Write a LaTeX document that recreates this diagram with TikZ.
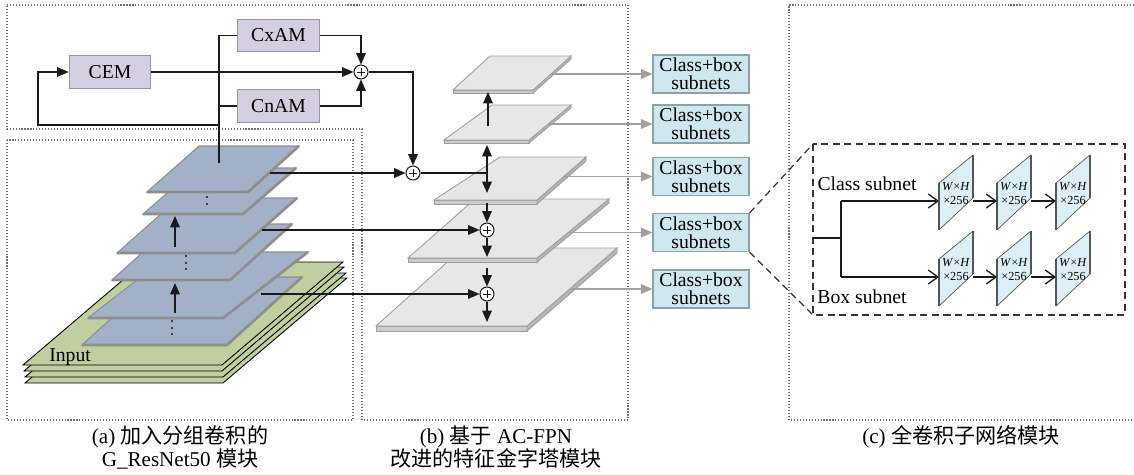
\documentclass[tikz,border=0pt]{standalone}
\usepackage{fontspec}
\setmainfont{Liberation Serif}
\newfontfamily\cjk{Noto Sans CJK SC}
\usetikzlibrary{arrows.meta,calc}
\definecolor{lav}{HTML}{D4CEE1}
\definecolor{lavb}{HTML}{9A94A8}
\definecolor{cbox}{HTML}{CFE7EF}
\definecolor{cboxb}{HTML}{8AA3AC}
\definecolor{bluep}{HTML}{A3B1C8}
\definecolor{bluepb}{HTML}{8E8E8E}
\definecolor{greenp}{HTML}{BFCF9F}
\definecolor{grayt}{HTML}{E7E7E7}
\definecolor{grayf}{HTML}{CBCBCB}
\definecolor{grays}{HTML}{B7B7B7}
\definecolor{grayb}{HTML}{9E9E9E}
\definecolor{subp}{HTML}{DDEFF6}
\definecolor{platec}{HTML}{555555}
\definecolor{dotc}{HTML}{707070}
\definecolor{dashc}{HTML}{333333}
\definecolor{linec}{HTML}{1A1A1A}
\definecolor{garrc}{HTML}{A0A0A0}
% gray FPN plate: TLx TRx topy BLx BRx boty thickness
\newcommand\gplate[7]{%
  \filldraw[fill=grayf,draw=grayb,line width=0.5pt] (#4,#6) -- (#5,#6) -- (#5,#6+#7) -- (#4,#6+#7) -- cycle;
  \filldraw[fill=grays,draw=grayb,line width=0.5pt] (#5,#6) -- (#2,#3) -- (#2,#3+#7) -- (#5,#6+#7) -- cycle;
  \filldraw[fill=grayt,draw=grayb,line width=0.5pt] (#1,#3) -- (#2,#3) -- (#5,#6) -- (#4,#6) -- cycle;}
% blue backbone plate
\newcommand\bplate[6]{%
  \filldraw[fill=bluep,draw=bluepb,line width=0.6pt] (#1,#3) -- (#2,#3) -- (#5,#6) -- (#4,#6) -- cycle;
  \draw[bluepb,line width=1.5pt] (#4,#6) -- (#5,#6) -- (#2,#3);}
% green input plate
\newcommand\grplate[6]{%
  \filldraw[fill=greenp,draw=black,line width=0.5pt] (#1,#3) -- (#2,#3) -- (#5,#6) -- (#4,#6) -- cycle;}
% subnet feature plate: name, left x, top-left y
\newcommand\subplate[3]{%
  \fill[subp] (#2,#3) -- (#2+34,#3-28) -- (#2+34,#3+15) -- (#2,#3+47) -- cycle;
  \draw[platec,line width=0.4pt] (#2,#3) -- (#2+34,#3-28) (#2+34,#3+15) -- (#2,#3+47);
  \draw[platec,line width=1.5pt] (#2,#3) -- (#2,#3+47);
  \draw[platec,line width=0.9pt] (#2+34,#3-28) -- (#2+34,#3+15);
  \node[smalltxt] (#1a) at (#2+17,#3+4) {\textit{W}×\textit{H}};
  \node[smalltxt] (#1b) at (#2+17,#3+17) {×256};
  \coordinate (#1l) at (#2,#3+18);
  \coordinate (#1r) at (#2+34,#3+18);}
\begin{document}
\begin{tikzpicture}[x=0.02cm,y=-0.02cm,font=\fontsize{11.2}{10}\selectfont,
  lin/.style={line width=0.75pt,draw=linec},
  arr/.style={lin,-{Triangle[length=6.5pt,width=5.5pt]}},
  garr/.style={line width=0.75pt,draw=garrc,-{Triangle[length=6.5pt,width=5.5pt]}},
  oarr/.style={lin,-{Straight Barb[length=5.5pt,width=8pt]}},
  modbox/.style={draw=lavb,fill=lav,line width=0.7pt,minimum height=0.65cm,minimum width=1.63cm,inner sep=0pt},
  cbbox/.style={draw=cboxb,fill=cbox,line width=0.7pt,minimum height=0.76cm,minimum width=1.92cm,inner sep=0pt,align=center},
  sumnode/.style={circle,draw=linec,fill=white,minimum size=0.28cm,inner sep=0pt,line width=0.6pt,
    path picture={\draw[line width=0.5pt,linec] ([xshift=1.6pt]path picture bounding box.west) -- ([xshift=-1.6pt]path picture bounding box.east)
      ([yshift=-1.6pt]path picture bounding box.north) -- ([yshift=1.6pt]path picture bounding box.south);}},
  dotbox/.style={draw=dotc,line width=0.6pt,dash pattern=on 0.6pt off 1.1pt},
  dashln/.style={draw=dashc,line width=0.7pt,dash pattern=on 4pt off 2.6pt},
  lbl/.style={inner sep=0pt},
  smalltxt/.style={font=\fontsize{7}{8}\selectfont,inner sep=0pt},
  captext/.style={font=\fontsize{12}{14}\selectfont,inner sep=0pt,anchor=base}]
\useasboundingbox (0,0) rectangle (1134,474);

% dotted panel outlines
\draw[dotbox] (7,140) rectangle (353,420);
\draw[dotbox] (7,5) -- (628,5) -- (628,420) -- (362,420) -- (362,129) -- (7,129) -- cycle;
\draw[dotbox] (1134,5) -- (789,5) -- (789,420) -- (1134,420);

% input layers
\grplate{149}{347}{278}{25}{223}{383}
\grplate{148}{346}{273}{25}{223}{377}
\grplate{146}{344}{267}{24}{222}{371}
\grplate{144}{343}{262}{23}{222}{365}
\node[lbl,anchor=base west] (inp) at (49,361) {Input};

% backbone plates
\bplate{157}{302}{277}{82}{227}{345}
\bplate{173}{308}{252}{88}{223}{318}
\bplate{174}{292}{224}{112}{230}{280}
\bplate{179}{297}{198}{117}{235}{253}
\bplate{196}{296}{168}{143}{243}{214}
\bplate{199}{299}{146}{147}{248}{192}
\foreach \p in {(207,197),(207,204),(186,256),(186,263),(186,269),(172,321),(172,328),(172,334)}
  \fill[linec] \p circle[radius=1.1];
\coordinate (u1s) at (175,247); \coordinate (u1e) at (175,216);
\coordinate (u2s) at (175,313); \coordinate (u2e) at (175,283);
\draw[arr] (u1s) -- (u1e);
\draw[arr] (u2s) -- (u2e);

% FPN plates
\gplate{463}{617}{248}{376}{527}{326}{5}
\gplate{475}{609}{199}{408}{537}{258}{4}
\gplate{500}{586}{157}{434}{537}{200}{4}
\gplate{492}{571}{105}{444}{529}{140}{3}
\gplate{490}{571}{56}{453}{533}{90}{3}

% attention modules
\node[modbox] (cem) at (110,72) {CEM};
\node[modbox] (cxam) at (278.5,35.5) {CxAM};
\node[modbox] (cnam) at (278.5,106) {CnAM};
\node[sumnode] (p1) at (361,72) {};
\node[sumnode] (p2) at (413,173) {};
\node[sumnode] (p3) at (487,230) {};
\node[sumnode] (p4) at (487,294) {};

\coordinate (bbin) at (219,163);
\coordinate (fb) at (219,125);
\coordinate (fbl) at (38,125);
\draw[lin] (cxam.west) -| (bbin);
\draw[lin] (cnam.west) -- (cnam.west -| bbin);
\draw[arr] (fb) -- (fbl) |- (cem.west);
\draw[arr] (cem.east) -- (p1.west);
\draw[arr] (cxam.east) -| (p1.north);
\draw[arr] (cnam.east) -| (p1.south);
\draw[arr] (p1.east) -| (p2.north);

\coordinate (s1) at (270,173);
\coordinate (s2) at (262,230);
\coordinate (s3) at (261,294);
\draw[arr] (s1) -- (p2.west);
\draw[arr] (s2) -- (p3.west);
\draw[arr] (s3) -- (p4.west);

\coordinate (j) at (487,173);
\coordinate (jup) at (487,145);
\coordinate (jdn) at (487,193);
\draw[lin] (p2.east) -- (j);
\draw[arr] (j) -- (jup);
\draw[arr] (j) -- (jdn);
\coordinate (t1s) at (488,126); \coordinate (t1e) at (488,92);
\draw[arr] (t1s) -- (t1e);
\coordinate (p3in) at (487,203); \coordinate (p3out) at (487,257);
\coordinate (p4in) at (487,268); \coordinate (p4out) at (487,322);
\draw[arr] (p3in) -- (p3.north);
\draw[arr] (p3.south) -- (p3out);
\draw[arr] (p4in) -- (p4.north);
\draw[arr] (p4.south) -- (p4out);

% class+box subnets
\node[cbbox] (cb1) at (701,74) {Class+box\\subnets};
\node[cbbox] (cb2) at (701,124) {Class+box\\subnets};
\node[cbbox] (cb3) at (701,176.5) {Class+box\\subnets};
\node[cbbox] (cb4) at (701,232.5) {Class+box\\subnets};
\node[cbbox] (cb5) at (701,289) {Class+box\\subnets};
\coordinate (g1) at (551,74);
\coordinate (g2) at (548,124);
\coordinate (g3) at (564,176.5);
\coordinate (g4) at (568,232.5);
\coordinate (g5) at (570,289);
\draw[garr] (g1) -- (cb1.west);
\draw[garr] (g2) -- (cb2.west);
\draw[garr] (g3) -- (cb3.west);
\draw[garr] (g4) -- (cb4.west);
\draw[garr] (g5) -- (cb5.west);

% panel (c)
\coordinate (dtl) at (813,144);
\coordinate (dbl) at (813,315);
\coordinate (dbr) at (1125,315);
\draw[dashln] (dtl) rectangle (dbr);
\draw[dashln] (cb4.north east) -- (dtl);
\draw[dashln] (cb4.south east) -- (dbl);
\node[lbl] (clsl) at (867,184) {Class subnet};
\node[lbl] (boxl) at (862,297) {Box subnet};
\subplate{ca}{939}{183}
\subplate{cb}{997}{183}
\subplate{cc}{1056}{183}
\subplate{ba}{939}{259}
\subplate{bb}{997}{259}
\subplate{bc}{1056}{259}
\coordinate (br0) at (813,238);
\coordinate (br1) at (841,238);
\coordinate (brt) at (841,201);
\coordinate (brb) at (841,277);
\draw[lin] (br0) -- (br1);
\draw[lin] (brt) -- (brb);
\draw[oarr] (brt) -- (cal);
\draw[oarr] (car) -- (cbl);
\draw[oarr] (cbr) -- (ccl);
\draw[oarr] (brb) -- (bal);
\draw[oarr] (bar) -- (bbl);
\draw[oarr] (bbr) -- (bcl);

% captions
\node[captext] (capa1) at (180,443) {(a) {\cjk 加入分组卷积的}};
\node[captext] (capa2) at (180,466) {G\_ResNet50 {\cjk 模块}};
\node[captext] (capb1) at (496,443) {(b) {\cjk 基于} AC-FPN};
\node[captext] (capb2) at (496,466) {\cjk 改进的特征金字塔模块};
\node[captext] (capc) at (961,443) {(c) {\cjk 全卷积子网络模块}};
\end{tikzpicture}
\end{document}
